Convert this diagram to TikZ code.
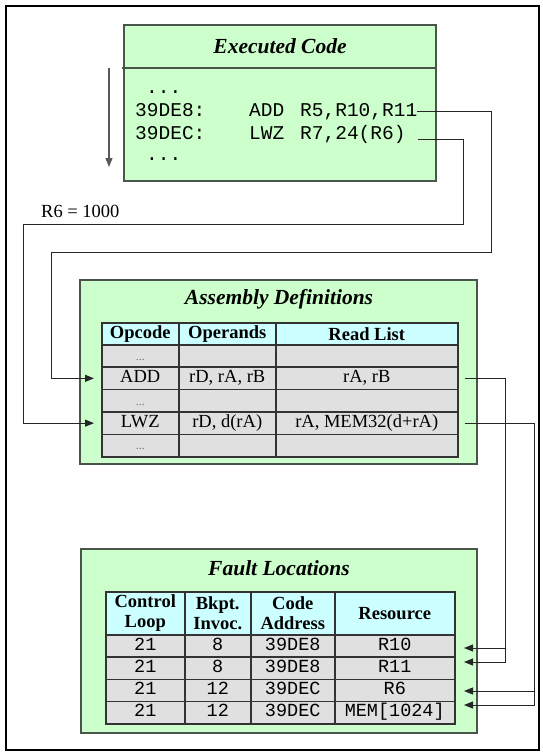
\documentclass[tikz,border=0pt]{standalone}
\usepackage{fontspec}
\setmainfont{Liberation Serif}
\newfontfamily\codefont{Liberation Mono}
\usetikzlibrary{arrows.meta,calc}
\definecolor{boxgreen}{HTML}{CCFFCC}
\definecolor{headcyan}{HTML}{CCFFFF}
\definecolor{rowgray}{HTML}{E0E0E0}
\definecolor{rimgray}{HTML}{4A554A}
\newcommand\dotrow{{\color{black!55}\fontsize{12}{12}\selectfont...}}

\begin{document}
\begin{tikzpicture}[x=1pt,y=-1pt,
    panel/.style={draw=rimgray,line width=1.3pt,fill=boxgreen},
    paneltitle/.style={font=\fontsize{21.5}{24}\selectfont\bfseries\itshape},
    code/.style={font=\fontsize{19.5}{22}\codefont,inner sep=0pt,anchor=base west},
    cell/.style={draw=black!80,line width=1.5pt,inner sep=0pt,anchor=north west,
                 font=\fontsize{18.5}{21}\selectfont},
    headcell/.style={cell,fill=headcyan,font=\fontsize{18.5}{20}\selectfont\bfseries,align=center},
    rowcell/.style={cell,fill=rowgray,text height=13pt,text depth=4.5pt},
    fltcell/.style={rowcell,font=\fontsize{18.5}{21}\codefont},
    wire/.style={draw=black!85,line width=0.9pt},
    arrowend/.style={-{Triangle[length=9pt,width=7pt]}}]
  \useasboundingbox (0,0) rectangle (543,752);
  \draw[line width=2.2pt] (6,6) rectangle (539,750);

  \draw[panel] (124,25) rectangle (436,181);
  \draw[rimgray,line width=1.8pt] (122,68) -- (436,68);
  \node[paneltitle] (exec) at (280,46) {Executed Code};
  \coordinate (flowtop) at (109,68);
  \coordinate (flowend) at (109,167);
  \draw[gray!70!black,line width=1.3pt,arrowend] (flowtop) -- (flowend);

  \node[code] (dots1) at (146,93)  {...};
  \node[code] (adr1)  at (135,116) {39DE8:};
  \node[code] (opc1)  at (249,116) {ADD};
  \node[code] (arg1)  at (300,116) {R5,R10,R11};
  \node[code] (adr2)  at (135,139) {39DEC:};
  \node[code] (opc2)  at (249,139) {LWZ};
  \node[code] (arg2)  at (300,139) {R7,24(R6)};
  \node[code] (dots2) at (146,160) {...};

  \node[anchor=west,inner sep=0pt,font=\fontsize{18.5}{21}\selectfont] (r6val) at (41,211) {R6 = 1000};

  \draw[panel] (80,280) rectangle (477,464);
  \node[paneltitle] (asm) at (279,299) {Assembly Definitions};
  \foreach \c/\x/\w/\t in {1/101/77/Opcode,2/178/97/Operands,3/275/182/Read List}
    \node[headcell,minimum width=\w,minimum height=22] (a-0-\c) at (\x,322) {\t};
  \foreach \r/\op/\args/\reads in {1/{\dotrow}/{}/{},2/ADD/{rD, rA, rB}/{rA, rB},
      3/{\dotrow}/{}/{},4/LWZ/{rD, d(rA)}/{rA, MEM32(d+rA)},5/{\dotrow}/{}/{}} {
    \node[rowcell,minimum width=77,minimum height=22.4] (a-\r-1) at (101,{344+22.4*(\r-1)}) {\op};
    \node[rowcell,minimum width=97,minimum height=22.4] (a-\r-2) at (178,{344+22.4*(\r-1)}) {\args};
    \node[rowcell,minimum width=182,minimum height=22.4] (a-\r-3) at (275,{344+22.4*(\r-1)}) {\reads};
  }

  \draw[panel] (81,549) rectangle (477,733);
  \node[paneltitle] (flt) at (279,568) {Fault Locations};
  \foreach \c/\x/\w/\t in {1/105/79/{Control\\Loop},2/184/66/{Bkpt.\\Invoc.},
      3/250/84/{Code\\Address},4/334/120/Resource}
    \node[headcell,minimum width=\w,minimum height=43] (f-0-\c) at (\x,591) {\t};
  \foreach \r/\lp/\bk/\ad/\rs in {1/21/8/39DE8/R10,2/21/8/39DE8/R11,
      3/21/12/39DEC/R6,4/21/12/39DEC/{MEM[1024]}} {
    \node[fltcell,minimum width=79,minimum height=22.25] (f-\r-1) at (105,{634+22.25*(\r-1)}) {\lp};
    \node[fltcell,minimum width=66,minimum height=22.25] (f-\r-2) at (184,{634+22.25*(\r-1)}) {\bk};
    \node[fltcell,minimum width=84,minimum height=22.25] (f-\r-3) at (250,{634+22.25*(\r-1)}) {\ad};
    \node[fltcell,minimum width=120,minimum height=22.25] (f-\r-4) at (334,{634+22.25*(\r-1)}) {\rs};
  }

  \coordinate (turn1) at (491,252);
  \coordinate (drop1) at (51,252);
  \coordinate (turn2) at (463,224);
  \coordinate (drop2) at (23,224);
  \draw[wire,arrowend] (arg1.east) -| (turn1) -- (drop1) |- ([xshift=-7pt]a-2-1.west);
  \draw[wire,arrowend] ($(arg2.east -| arg1.east)+(1,5)$) -| (turn2) -- (drop2)
        |- ([xshift=-7pt]a-4-1.west);

  \coordinate (busA) at (505,0);
  \coordinate (busB) at (534,0);
  \coordinate (inR10) at (464,648);
  \coordinate (inR11) at (464,662);
  \coordinate (inR6)  at (464,691);
  \coordinate (inMem) at (464,705);
  \draw[wire,arrowend] ([xshift=6pt]a-2-3.east) -| (busA |- inR11) -- (inR11);
  \draw[wire,arrowend] (busA |- inR10) -- (inR10);
  \draw[wire,arrowend] ([xshift=6pt]a-4-3.east) -| (busB |- inMem) -- (inMem);
  \draw[wire,arrowend] (busB |- inR6) -- (inR6);
\end{tikzpicture}
\end{document}
